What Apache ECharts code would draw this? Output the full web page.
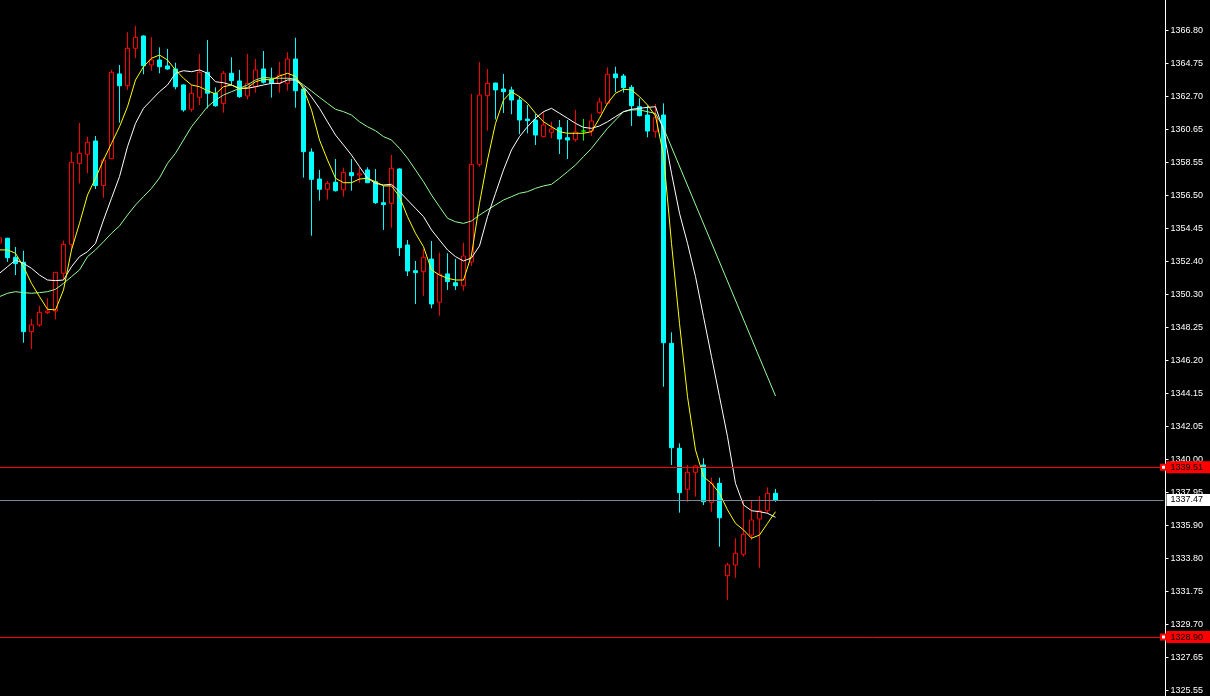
<!DOCTYPE html>
<html>
<head>
<meta charset="utf-8">
<script src="https://cdn.jsdelivr.net/npm/echarts@6.0.0/dist/echarts.min.js"></script>
<style>
  html, body { margin: 0; padding: 0; background: #000; }
  #chart { width: 1210px; height: 696px; }
</style>
</head>
<body>
<div id="chart"></div>
<script>
// Candles: [open, close, low, high]
const ohlc = [
  [1353.53, 1353.85, 1353.35, 1353.97],
  [1353.83, 1352.61, 1352.36, 1353.85],
  [1352.64, 1352.24, 1351.53, 1353.28],
  [1352.33, 1347.99, 1347.30, 1353.05],
  [1347.99, 1348.41, 1346.91, 1348.78],
  [1348.41, 1349.20, 1348.30, 1349.60],
  [1349.18, 1349.28, 1349.10, 1350.08],
  [1349.28, 1351.70, 1348.76, 1351.72],
  [1351.64, 1353.45, 1351.22, 1353.68],
  [1353.45, 1358.58, 1353.10, 1359.24],
  [1358.51, 1359.14, 1357.26, 1361.03],
  [1359.08, 1359.83, 1357.89, 1360.18],
  [1359.91, 1357.12, 1356.91, 1360.22],
  [1357.12, 1358.72, 1356.36, 1358.85],
  [1358.80, 1364.20, 1358.80, 1364.35],
  [1364.10, 1363.36, 1361.05, 1364.66],
  [1363.36, 1365.70, 1363.10, 1366.70],
  [1365.70, 1366.39, 1365.08, 1367.10],
  [1366.47, 1364.61, 1364.08, 1366.50],
  [1364.66, 1364.97, 1364.30, 1366.39],
  [1364.97, 1364.55, 1364.14, 1365.76],
  [1364.60, 1364.41, 1364.35, 1365.66],
  [1364.41, 1363.30, 1363.14, 1364.80],
  [1363.41, 1361.85, 1361.74, 1363.45],
  [1361.89, 1362.89, 1361.74, 1363.41],
  [1362.64, 1364.20, 1362.16, 1365.35],
  [1364.20, 1362.89, 1361.95, 1366.22],
  [1362.89, 1362.11, 1362.05, 1363.26],
  [1362.26, 1364.14, 1361.68, 1364.28],
  [1364.14, 1363.68, 1363.35, 1365.14],
  [1363.66, 1362.68, 1362.60, 1364.35],
  [1362.72, 1363.51, 1362.51, 1365.35],
  [1363.30, 1364.35, 1362.93, 1365.03],
  [1364.41, 1363.58, 1363.50, 1365.53],
  [1363.76, 1363.51, 1362.62, 1364.49],
  [1363.51, 1364.03, 1362.93, 1364.86],
  [1363.51, 1365.03, 1363.05, 1365.45],
  [1365.03, 1363.05, 1361.99, 1366.36],
  [1363.16, 1359.24, 1357.62, 1363.20],
  [1359.22, 1357.51, 1353.99, 1359.45],
  [1357.53, 1356.89, 1356.18, 1358.10],
  [1356.89, 1357.26, 1356.26, 1357.41],
  [1357.33, 1356.80, 1356.75, 1358.78],
  [1356.85, 1357.95, 1356.43, 1358.24],
  [1357.93, 1357.74, 1356.80, 1358.78],
  [1357.78, 1357.86, 1357.30, 1358.26],
  [1358.10, 1357.30, 1357.28, 1358.26],
  [1357.36, 1356.05, 1355.97, 1358.16],
  [1356.05, 1355.93, 1354.35, 1357.10],
  [1356.01, 1358.20, 1354.49, 1359.03],
  [1358.16, 1353.24, 1352.72, 1358.20],
  [1353.41, 1351.78, 1351.47, 1353.72],
  [1351.80, 1351.68, 1349.72, 1352.41],
  [1351.74, 1352.64, 1350.22, 1353.16],
  [1352.53, 1349.72, 1349.45, 1353.66],
  [1349.83, 1351.58, 1348.99, 1352.93],
  [1351.60, 1351.12, 1350.60, 1352.89],
  [1351.05, 1350.86, 1350.60, 1352.53],
  [1350.86, 1352.72, 1350.55, 1353.55],
  [1352.35, 1358.45, 1352.10, 1362.85],
  [1358.45, 1362.78, 1358.30, 1364.83],
  [1362.74, 1363.51, 1360.55, 1364.41],
  [1363.53, 1363.10, 1361.26, 1363.55],
  [1363.16, 1362.99, 1361.66, 1364.10],
  [1363.10, 1362.47, 1361.58, 1363.30],
  [1362.47, 1361.22, 1360.33, 1362.72],
  [1361.28, 1361.18, 1360.39, 1362.16],
  [1361.22, 1360.28, 1359.66, 1361.60],
  [1360.18, 1360.91, 1360.15, 1361.74],
  [1360.45, 1360.66, 1360.08, 1361.11],
  [1360.74, 1360.03, 1359.10, 1361.22],
  [1360.11, 1359.97, 1358.78, 1361.22],
  [1359.99, 1360.47, 1359.86, 1361.85],
  [1360.53, 1360.53, 1359.93, 1361.28],
  [1360.53, 1361.16, 1360.22, 1361.60],
  [1361.68, 1362.35, 1361.60, 1362.61],
  [1362.26, 1364.08, 1362.20, 1364.51],
  [1364.10, 1363.86, 1362.95, 1364.55],
  [1363.97, 1363.24, 1362.93, 1364.10],
  [1363.26, 1362.11, 1360.85, 1363.41],
  [1362.05, 1361.49, 1361.45, 1362.58],
  [1361.53, 1360.53, 1360.14, 1362.10],
  [1360.49, 1361.39, 1360.12, 1362.22],
  [1361.53, 1347.30, 1344.55, 1362.26],
  [1347.26, 1340.74, 1339.66, 1347.95],
  [1340.70, 1337.93, 1336.68, 1341.01],
  [1338.14, 1339.20, 1337.36, 1339.66],
  [1339.20, 1339.60, 1337.68, 1339.66],
  [1339.66, 1337.36, 1337.16, 1340.08],
  [1337.33, 1338.51, 1336.74, 1338.86],
  [1338.51, 1336.36, 1334.55, 1338.86],
  [1332.74, 1333.41, 1331.22, 1333.55],
  [1333.41, 1334.14, 1332.61, 1335.08],
  [1334.08, 1335.33, 1333.93, 1337.47],
  [1335.28, 1336.22, 1334.97, 1337.47],
  [1336.28, 1336.80, 1333.24, 1337.72],
  [1336.80, 1337.89, 1336.64, 1338.26],
  [1337.89, 1337.47, 1337.36, 1338.16]
];

// Moving averages
const maYellow = [
  1353.10, 1353.10, 1352.89, 1352.05, 1351.01, 1350.18, 1349.39, 1349.35, 1350.60, 1353.10,
  1354.76, 1356.53, 1357.58, 1358.72, 1359.76, 1360.80, 1362.05, 1363.72, 1364.55, 1365.08,
  1365.28, 1364.97, 1364.35, 1363.83, 1363.41, 1363.30, 1363.05, 1362.85, 1363.30, 1363.41,
  1363.16, 1363.24, 1363.61, 1363.76, 1363.72, 1363.97, 1364.14, 1363.95, 1363.16, 1361.85,
  1359.97, 1358.72, 1357.58, 1357.30, 1357.30, 1357.53, 1357.58, 1357.36, 1357.10, 1357.10,
  1356.43, 1355.18, 1354.14, 1353.30, 1351.85, 1351.53, 1351.33, 1351.22, 1351.22, 1352.78,
  1356.01, 1358.72, 1361.01, 1362.47, 1362.99, 1362.68, 1362.26, 1361.64, 1361.11, 1360.80,
  1360.49, 1360.39, 1360.39, 1360.39, 1360.49, 1361.33, 1362.26, 1362.89, 1363.14, 1363.10,
  1362.68, 1362.16, 1361.47, 1359.03, 1353.51, 1348.51, 1343.93, 1340.60, 1338.93, 1338.51,
  1337.89, 1336.85, 1336.01, 1335.60, 1335.08, 1335.28, 1336.01, 1336.74
];
const maWhite = [
  1351.64, 1352.05, 1352.47, 1352.26, 1351.95, 1351.53, 1351.22, 1351.18, 1351.22, 1352.05,
  1352.68, 1352.99, 1353.51, 1354.97, 1356.33, 1357.68, 1359.55, 1361.01, 1361.95, 1362.47,
  1362.99, 1363.41, 1364.14, 1364.30, 1364.24, 1364.35, 1364.14, 1363.61, 1363.55, 1363.41,
  1363.20, 1363.20, 1363.30, 1363.41, 1363.51, 1363.51, 1363.72, 1363.72, 1363.30, 1362.66,
  1361.95, 1361.11, 1360.28, 1359.66, 1359.03, 1358.30, 1357.58, 1357.26, 1357.16, 1357.20,
  1356.74, 1356.22, 1355.70, 1355.18, 1354.35, 1353.72, 1353.10, 1352.68, 1352.41, 1352.60,
  1353.35, 1355.18, 1356.64, 1358.10, 1359.35, 1360.18, 1360.80, 1361.33, 1361.74, 1361.95,
  1361.64, 1361.33, 1361.01, 1360.76, 1360.70, 1360.85, 1361.11, 1361.43, 1361.74, 1361.89,
  1361.95, 1362.01, 1362.05, 1360.60, 1357.89, 1355.39, 1353.51, 1351.43, 1348.93, 1346.43,
  1343.93, 1341.43, 1338.51, 1337.16, 1336.80, 1336.74, 1336.64, 1336.39
];
const maGreen = [
  1350.18, 1350.39, 1350.49, 1350.43, 1350.39, 1350.43, 1350.49, 1350.64, 1351.01, 1351.43,
  1351.85, 1352.68, 1353.10, 1353.61, 1354.14, 1354.60, 1355.28, 1355.91, 1356.43, 1356.95,
  1357.60, 1358.51, 1359.14, 1359.97, 1360.80, 1361.43, 1362.05, 1362.47, 1362.78, 1362.99,
  1363.20, 1363.41, 1363.72, 1363.89, 1363.83, 1363.83, 1363.83, 1363.78, 1363.41, 1363.03,
  1362.64, 1362.26, 1361.89, 1361.74, 1361.53, 1361.11, 1360.80, 1360.55, 1360.18, 1359.97,
  1359.45, 1358.83, 1358.10, 1357.36, 1356.53, 1355.80, 1355.08, 1354.86, 1354.76, 1354.91,
  1355.28, 1355.60, 1355.91, 1356.22, 1356.43, 1356.64, 1356.74, 1356.95, 1357.10, 1357.20,
  1357.58, 1357.99, 1358.41, 1358.93, 1359.45, 1360.08, 1360.70, 1361.22, 1361.74, 1361.85,
  1361.85, 1361.74, 1361.63, 1360.72, null, null, null, null, null, null,
  null, null, null, null, null, null, null, 1343.97
];

// Price axis tick labels
const yTicks = [
  1325.55, 1327.65, 1329.70, 1331.75, 1333.80, 1335.90, 1337.95, 1340.00, 1342.05, 1344.15,
  1346.20, 1348.25, 1350.30, 1352.40, 1354.45, 1356.50, 1358.55, 1360.65, 1362.70, 1364.75, 1366.80
];

// Horizontal price levels
const redLevels = [1339.51, 1328.90];
const bidLevel = [1337.47];

const categories = ohlc.map((_, i) => String(i + 1));
const slotCount = 146;
const axisCats = categories.concat(Array(slotCount - categories.length).fill('').map((_, i) => 'e' + i));

const chart = echarts.init(document.getElementById('chart'), null, { renderer: 'canvas' });

const fontFamily = "'Liberation Sans', Arial, sans-serif";

function levelLabel(bg) {
  return {
    show: true,
    position: 'end',
    distance: 3,
    formatter: p => Number(p.value).toFixed(2),
    backgroundColor: bg,
    color: '#000',
    fontSize: 9,
    fontFamily: fontFamily,
    padding: [1, 12, 1, 4],
    lineHeight: 10
  };
}

chart.setOption({
  backgroundColor: '#000000',
  animation: false,
  grid: {
    left: -4.5,
    right: 46.5,
    top: 0,
    bottom: 0,
    containLabel: false,
    outerBoundsMode: 'none'
  },
  xAxis: {
    type: 'category',
    data: axisCats,
    boundaryGap: true,
    axisLine: { show: false },
    axisTick: { show: false },
    axisLabel: { show: false },
    splitLine: { show: false }
  },
  yAxis: {
    type: 'value',
    position: 'right',
    offset: 2,
    min: 1325.22,
    max: 1368.72,
    splitLine: { show: false },
    axisLine: { show: true, lineStyle: { color: '#ffffff', width: 1 } },
    axisTick: {
      show: true, inside: false, length: 3,
      customValues: yTicks,
      lineStyle: { color: '#ffffff' }
    },
    axisLabel: {
      customValues: yTicks,
      formatter: v => Number(v).toFixed(2),
      color: '#ffffff',
      fontSize: 9,
      fontFamily: fontFamily,
      margin: 5
    }
  },
  series: [
    {
      type: 'candlestick',
      data: ohlc,
      barWidth: 4,
      itemStyle: {
        color: '#000000',
        color0: '#00ffff',
        borderColor: '#ff0000',
        borderColor0: '#00ffff',
        borderColorDoji: '#00ff00',
        borderWidth: 1
      }
    },
    {
      type: 'line', data: maGreen, symbol: 'none', connectNulls: true, silent: true,
      lineStyle: { color: '#98fb98', width: 1 }
    },
    {
      type: 'line', data: maWhite, symbol: 'none', silent: true,
      lineStyle: { color: '#ffffff', width: 1 }
    },
    {
      type: 'line', data: maYellow, symbol: 'none', silent: true,
      lineStyle: { color: '#ffff00', width: 1 }
    },
    {
      type: 'line', data: [], clip: false, silent: true,
      markLine: {
        silent: true,
        animation: false,
        symbol: ['none', 'emptyRect'],
        symbolSize: 5,
        lineStyle: { color: '#ff0000', width: 1, type: 'solid' },
        label: levelLabel('#ff0000'),
        data: redLevels.map(v => ({ yAxis: v }))
      }
    },
    {
      type: 'line', data: [], clip: false, silent: true,
      markLine: {
        silent: true,
        animation: false,
        symbol: ['none', 'none'],
        lineStyle: { color: '#778899', width: 1, type: 'solid' },
        label: levelLabel('#ffffff'),
        data: bidLevel.map(v => ({ yAxis: v }))
      }
    }
  ]
});
</script>
</body>
</html>
